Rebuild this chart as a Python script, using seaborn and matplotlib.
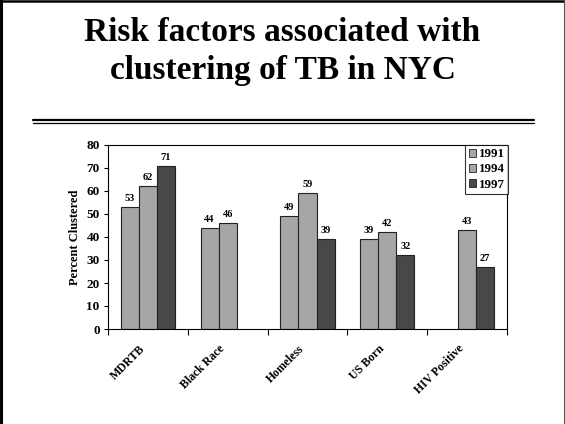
import numpy as np
import pandas as pd
import matplotlib
matplotlib.use("Agg")
import matplotlib.pyplot as plt
import matplotlib.transforms as mtransforms
from matplotlib.lines import Line2D
from matplotlib.patches import Patch
import seaborn as sns

categories = ["MDRTB", "Black Race", "Homeless", "US Born", "HIV Positive"]
years = ["1991", "1994", "1997"]
vals_1991 = [53, 44, 49, 39, np.nan]
vals_1994 = [62, 46, 59, 42, 43]
vals_1997 = [71, np.nan, 39, 32, 27]
colors = {"1991": "#a6a6a6", "1994": "#a6a6a6", "1997": "#484848"}

rows = []
for yr, vals in zip(years, [vals_1991, vals_1994, vals_1997]):
    for c, v in zip(categories, vals):
        if not np.isnan(v):
            rows.append({"Risk factor": c, "Year": yr, "Percent": v})
df = pd.DataFrame(rows)

sns.set_theme(style="white")
plt.rcParams["font.family"] = ["Liberation Serif", "DejaVu Serif"]
plt.rcParams["font.weight"] = "bold"
for k in ["text.color", "axes.labelcolor", "xtick.color", "ytick.color"]:
    plt.rcParams[k] = "black"

fig = plt.figure(figsize=(5.65, 4.24), dpi=100)
ax = fig.add_axes([108 / 565, 1 - 329 / 424, (507 - 108) / 565, (329 - 145) / 424])

sns.barplot(data=df, x="Risk factor", y="Percent", hue="Year",
            order=categories, hue_order=years, palette=colors,
            width=0.68, edgecolor="#222222", linewidth=0.8,
            saturation=1, ax=ax, legend=False)

for cont in ax.containers:
    ax.bar_label(cont, fmt="%.0f", padding=3, fontsize=7.5, fontweight="bold")

ax.set_xlim(-0.5, 4.5)
ax.set_ylim(0, 80)
ax.set_yticks(range(0, 81, 10))
ax.set_yticklabels([str(v) for v in range(0, 81, 10)], fontsize=9.5, fontweight="bold")
ax.set_ylabel("Percent Clustered", fontsize=9, fontweight="bold", labelpad=4)
ax.set_xlabel("")

ax.set_xticks(np.arange(-0.5, 5, 1.0))
ax.set_xticklabels([])
ax.tick_params(axis="x", which="major", direction="out", length=4, width=0.8, color="black", bottom=True)
ax.set_xticks(np.arange(0, 5), minor=True)
ax.set_xticklabels(categories, minor=True, rotation=45, ha="right",
                   rotation_mode="anchor", fontsize=8.5, fontweight="bold")
ax.tick_params(axis="x", which="minor", length=0, pad=10)
offset = mtransforms.ScaledTranslation(-9 / 100, 0, fig.dpi_scale_trans)
for lab in ax.get_xticklabels(minor=True):
    lab.set_transform(lab.get_transform() + offset)
ax.tick_params(axis="y", direction="out", length=3, width=0.8, color="black", left=True, pad=3)
for s in ax.spines.values():
    s.set_visible(True)
    s.set_color("black")
    s.set_linewidth(0.8)

handles = [Patch(facecolor=colors[y], edgecolor="#222222", linewidth=0.6, label=y) for y in years]
leg = ax.legend(handles=handles, loc="upper right", bbox_to_anchor=(1.003, 1.0),
                borderaxespad=0, frameon=True, fancybox=False,
                handlelength=0.6, handleheight=0.6, handletextpad=0.2,
                borderpad=0.25, labelspacing=0.25, prop={"weight": "bold", "size": 9.3})
leg.get_frame().set_edgecolor("black")
leg.get_frame().set_linewidth(0.8)

fig.text(0.5, 1 - 17 / 424, "Risk factors associated with\nclustering of TB in NYC",
         ha="center", va="top", fontsize=24, fontweight="bold", linespacing=1.3)

fig.add_artist(Line2D([33 / 565, 534 / 565], [1 - 120 / 424] * 2, color="black", lw=1.6))
fig.add_artist(Line2D([33 / 565, 534 / 565], [1 - 122.8 / 424] * 2, color="black", lw=0.9))

# slide frame
fig.add_artist(Line2D([1 / 565, 1 / 565], [0, 1], color="black", lw=2.2))
fig.add_artist(Line2D([0, 1], [1 - 1 / 424, 1 - 1 / 424], color="black", lw=1.8))
fig.add_artist(Line2D([563.5 / 565, 563.5 / 565], [0, 1], color="#555555", lw=0.8))

fig.savefig("out.png", dpi=100)
